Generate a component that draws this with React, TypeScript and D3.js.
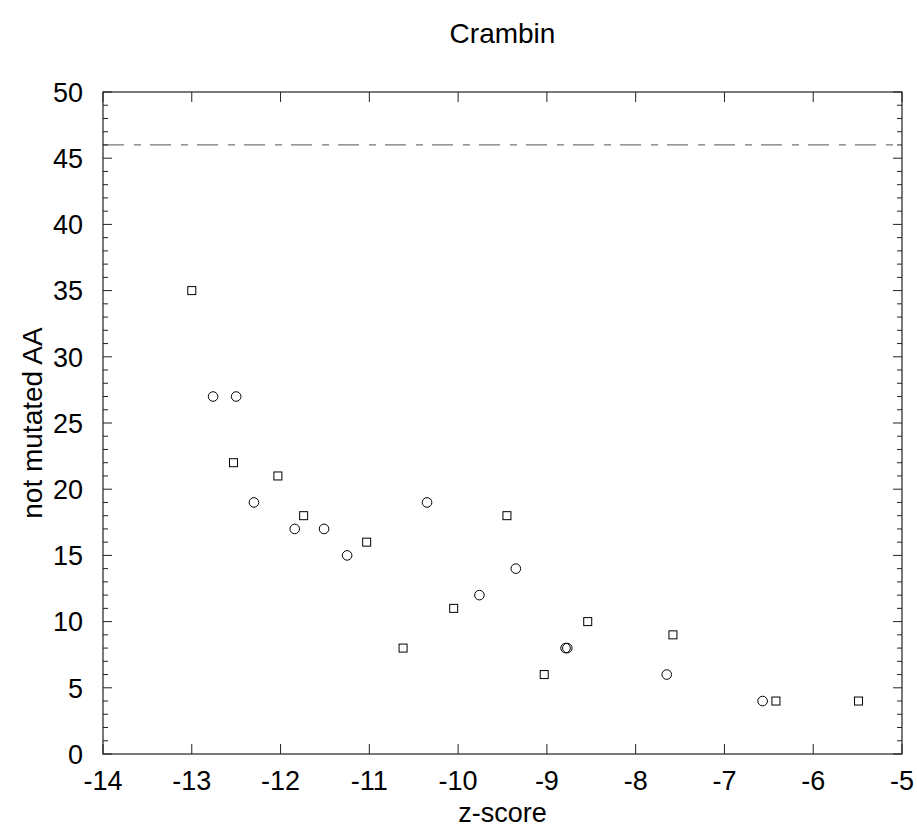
import React from "react";
import * as d3 from "d3";

const title = "Crambin";
const xLabel = "z-score";
const yLabel = "not mutated AA";

const xTicks = [-14, -13, -12, -11, -10, -9, -8, -7, -6, -5];
const yTicks = [0, 5, 10, 15, 20, 25, 30, 35, 40, 45, 50];

const squareX = [-13.0, -12.53, -12.03, -11.74, -11.03, -10.62, -10.05, -9.45, -9.03, -8.54, -7.58, -6.42, -5.49];
const squareY = [35, 22, 21, 18, 16, 8, 11, 18, 6, 10, 9, 4, 4];

const circleX = [-12.76, -12.5, -12.3, -11.84, -11.51, -11.25, -10.35, -9.76, -9.35, -8.79, -8.77, -7.65, -6.57];
const circleY = [27, 27, 19, 17, 17, 15, 19, 12, 14, 8, 8, 6, 4];

const refLineY = 46;

const W = 917;
const H = 831;
const m = { left: 103, right: 917 - 902, top: 92, bottom: 831 - 754 };

export default function App() {
  const x = d3.scaleLinear().domain([-14, -5]).range([m.left, W - m.right]);
  const y = d3.scaleLinear().domain([0, 50]).range([H - m.bottom, m.top]);
  const x0 = x.range()[0], x1 = x.range()[1];
  const y0 = y.range()[0], y1 = y.range()[1];
  const minorY = d3.range(0, 51, 1).filter((v) => v % 5 !== 0);
  const font = "'Liberation Sans', Arial, Helvetica, sans-serif";
  const axisColor = "#222";

  return (
    <svg width={W} height={H} style={{ position: "absolute", left: 0, top: 0, background: "#fff" }} fontFamily={font}>
      <rect x={0} y={0} width={W} height={H} fill="#fff" />
      <text x={(x0 + x1) / 2} y={43} textAnchor="middle" fontSize={28} fill="#000">{title}</text>

      {/* reference line */}
      <line x1={x0} x2={x1} y1={y(refLineY)} y2={y(refLineY)} stroke="#777" strokeWidth={1.3} strokeDasharray="21,10,7,9" />

      {/* ticks */}
      {xTicks.map((t) => (
        <g key={"xt" + t}>
          <line x1={x(t)} x2={x(t)} y1={y0} y2={y0 - 10} stroke={axisColor} strokeWidth={1} />
          <line x1={x(t)} x2={x(t)} y1={y1} y2={y1 + 10} stroke={axisColor} strokeWidth={1} />
          <text x={x(t)} y={790} textAnchor="middle" fontSize={27} fill="#000">{t}</text>
        </g>
      ))}
      {yTicks.map((t) => (
        <g key={"yt" + t}>
          <line x1={x0} x2={x0 + 9} y1={y(t)} y2={y(t)} stroke={axisColor} strokeWidth={1} />
          <line x1={x1} x2={x1 - 9} y1={y(t)} y2={y(t)} stroke={axisColor} strokeWidth={1} />
          <text x={83} y={y(t)} dy="0.36em" textAnchor="end" fontSize={27} fill="#000">{t}</text>
        </g>
      ))}
      {minorY.map((t) => (
        <g key={"my" + t}>
          <line x1={x0} x2={x0 + 5} y1={y(t)} y2={y(t)} stroke={axisColor} strokeWidth={1} />
          <line x1={x1} x2={x1 - 5} y1={y(t)} y2={y(t)} stroke={axisColor} strokeWidth={1} />
        </g>
      ))}

      <rect x={x0} y={y1} width={x1 - x0} height={y0 - y1} fill="none" stroke={axisColor} strokeWidth={1.2} />

      {/* markers */}
      {squareX.map((v, i) => (
        <rect key={"s" + i} x={x(v) - 4} y={y(squareY[i]) - 4} width={8} height={8} fill="none" stroke="#000" strokeWidth={1} />
      ))}
      {circleX.map((v, i) => (
        <circle key={"c" + i} cx={x(v)} cy={y(circleY[i])} r={4.8} fill="none" stroke="#000" strokeWidth={1} />
      ))}

      <text x={(x0 + x1) / 2} y={822} textAnchor="middle" fontSize={27} fill="#000">{xLabel}</text>
      <text transform={`translate(42, ${(y0 + y1) / 2}) rotate(-90)`} textAnchor="middle" fontSize={28} fill="#000">{yLabel}</text>
    </svg>
  );
}
